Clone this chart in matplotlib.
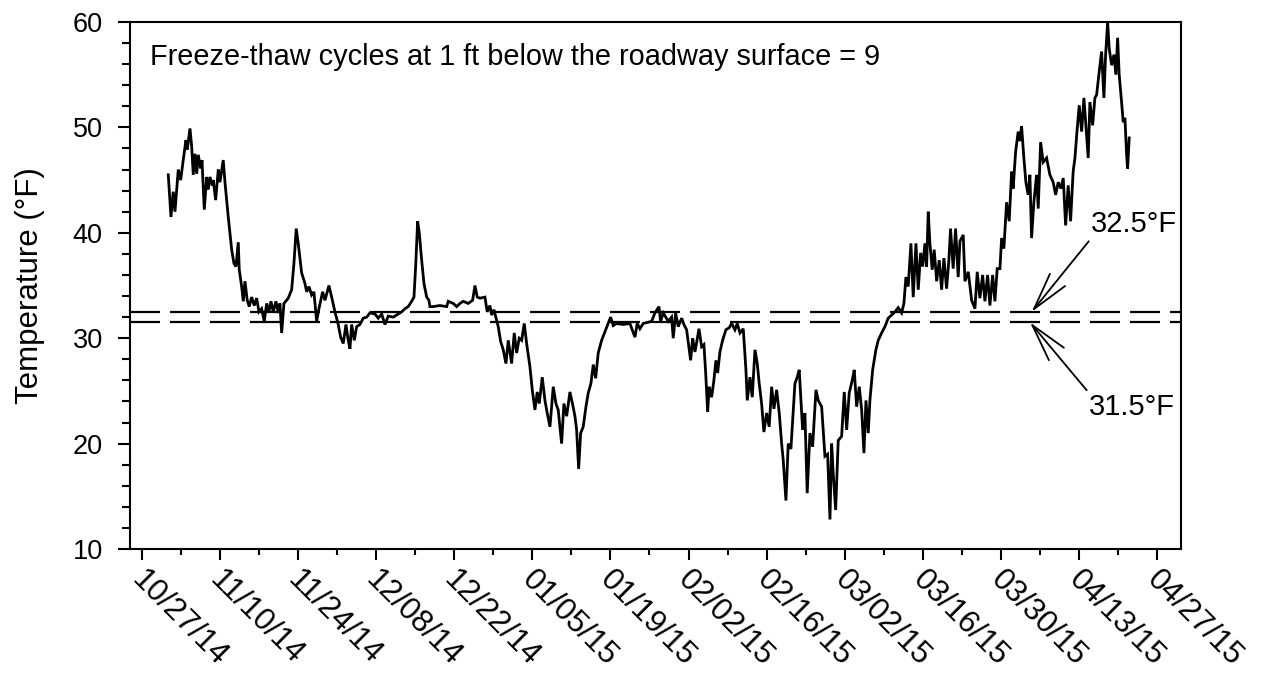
import matplotlib
matplotlib.use("Agg")
import matplotlib.pyplot as plt
import matplotlib.dates as mdates
from matplotlib.transforms import ScaledTranslation
import pandas as pd
import numpy as np

plt.rcParams['font.family'] = ['Liberation Sans', 'DejaVu Sans']
plt.rcParams['lines.scale_dashes'] = False

# days after 10/27/14 and temperature (deg F)
days = [4.77, 5.25, 5.66, 5.97, 6.56, 6.99, 7.45, 7.94, 8.17, 8.66, 8.96, 9.25, 9.55, 9.86,
        10.14, 10.57, 10.81, 11.22, 11.65, 11.93, 12.24, 12.65, 12.83, 13.26, 13.73, 14.03,
        14.62, 14.93, 15.52, 16.13, 16.54, 16.90, 17.31, 17.49, 17.92, 18.21, 18.51, 18.92,
        19.28, 19.71, 20.18, 20.61, 21.02, 21.50, 21.97, 22.40, 22.81, 23.17, 23.58, 24.07,
        24.48, 24.78, 25.09, 25.50, 26.27, 26.88, 27.29, 27.70, 28.06, 28.67, 29.26, 29.57,
        29.98, 30.46, 30.87, 31.36, 31.77,
        32.43, 32.85, 33.56, 34.05, 34.64, 35.23, 35.66, 36.13, 36.61, 37.02, 37.33, 37.63,
        38.10, 38.53, 39.12, 39.71, 40.32, 40.91, 41.81, 42.40, 43.01, 43.60, 44.19, 45.09,
        45.98, 46.59, 47.18, 47.77, 48.38, 48.80, 49.10, 49.46, 49.75, 50.18, 50.59, 51.08,
        51.48, 51.66, 52.25, 53.45, 54.66, 54.94, 55.84, 56.45, 57.04, 57.63, 58.53, 59.31,
        59.73, 60.14,
        60.62, 61.52, 61.93, 62.41, 62.72, 63.13, 63.62, 63.90, 64.33, 64.80, 65.28, 65.70,
        66.30, 66.77, 67.20, 67.66, 68.10, 68.56, 68.99, 69.58, 70.00, 70.48, 70.89, 71.25,
        71.79, 72.27, 72.68, 73.17, 73.76, 74.24, 74.65, 75.26, 75.67, 76.16, 76.75, 77.24,
        77.65, 77.95, 78.31, 78.67, 79.13, 79.62, 80.03, 80.51, 80.93, 81.36, 81.82, 82.43,
        83.02, 83.61, 84.04, 84.51, 85.12, 86.30, 87.50, 88.40, 88.81,
        89.29, 89.89, 91.39, 91.98, 92.70, 93.00, 93.47, 94.37, 94.97, 95.26, 95.69, 96.16,
        96.77, 97.18, 97.66, 98.38, 98.74, 99.15, 99.46, 99.87, 100.35, 100.76, 101.07,
        101.43, 101.71, 102.14, 102.55, 102.91, 103.22, 103.63, 104.11, 104.70, 105.30,
        105.73, 106.32, 106.73, 107.22, 107.81, 108.29, 108.53, 109.01, 109.42, 109.91,
        110.32, 110.67, 111.10, 111.51, 112.00, 112.46, 112.90, 113.31, 113.79, 114.26,
        114.69, 114.98, 115.46, 115.87, 116.35, 116.77, 117.07, 117.48, 117.84,
        118.45, 118.86, 119.27, 119.76, 120.24, 120.84, 121.25, 121.86, 122.45, 122.93,
        123.35, 123.65, 123.93, 124.37, 124.83, 125.44, 125.91, 126.34, 126.80, 127.34,
        127.70, 128.13, 128.60, 129.03, 129.44, 129.80, 130.21, 130.51, 131.00, 131.58,
        132.00, 132.61, 133.20, 133.79, 134.40, 134.99, 135.58, 136.19, 136.60, 136.96,
        137.37, 137.86, 138.27, 138.76, 139.17, 139.60, 139.96, 140.37, 140.67, 140.96,
        141.26, 141.67, 142.03, 142.47, 142.93, 143.36, 143.77, 144.25, 144.66, 144.96,
        145.43, 145.86, 146.33,
        146.64, 147.23, 147.54, 148.13, 148.74, 149.33, 149.74, 150.22, 150.71, 151.12,
        151.60, 152.01, 152.50, 152.91, 153.32, 153.81, 154.11, 154.52, 155.00, 155.47,
        155.90, 156.18, 156.62, 157.08, 157.39, 157.69, 158.10, 158.46, 158.87, 159.18,
        159.48, 159.89, 160.38, 160.67, 161.10, 161.56, 162.17, 162.76, 163.35, 163.79,
        164.25, 164.73, 165.15, 165.58, 166.04, 166.47, 166.93, 167.25, 167.66, 168.02,
        168.45, 168.86, 169.22, 169.63, 169.93, 170.42, 170.83, 171.14, 171.60, 172.03,
        172.44, 172.75, 173.11, 173.39, 173.83, 174.24, 174.59, 174.90, 175.18, 175.61,
        175.90, 176.21, 176.51, 176.69, 176.98]

temps = [45.5, 41.5, 43.9, 42.0, 46.0, 45.0, 46.9, 48.8, 47.9, 49.9, 48.2, 45.5, 47.5, 45.6,
         47.4, 46.1, 46.9, 42.2, 45.3, 44.1, 45.3, 44.5, 45.0, 43.1, 46.0, 44.8,
         46.9, 44.8, 41.5, 38.4, 37.1, 36.8, 39.1, 36.5, 34.9, 33.5, 35.4, 33.6,
         33.0, 33.9, 33.1, 33.8, 32.5, 32.8, 31.6, 33.3, 32.5, 33.5, 32.5, 33.5,
         32.4, 33.3, 30.5, 33.3, 33.8, 34.6, 37.1, 40.4, 39.0, 36.2, 35.2, 34.4,
         34.9, 34.1, 34.4, 31.6, 32.8,
         34.4, 33.6, 35.0, 33.9, 32.5, 31.3, 30.1, 29.5, 31.3, 29.8, 29.0, 31.3,
         29.8, 31.1, 31.3, 31.9, 32.0, 32.4, 32.3, 31.9, 32.3, 31.3, 32.1, 32.0,
         32.3, 32.5, 32.8, 33.0, 33.5, 33.9, 36.8, 41.1, 40.0, 37.4, 35.2, 33.9,
         33.6, 33.0, 33.0, 33.1, 33.0, 33.5, 33.3, 33.0, 33.3, 33.5, 33.3, 33.6,
         35.0, 33.9,
         33.8, 33.9, 32.5, 33.1, 32.2, 32.7, 31.7, 31.1, 29.7, 28.9, 27.6, 29.8,
         27.6, 30.5, 28.6, 30.0, 29.8, 31.4, 29.5, 27.3, 25.1, 23.2, 24.9, 23.8,
         26.3, 24.1, 22.9, 21.6, 25.4, 23.8, 23.2, 20.0, 23.8, 22.6, 24.9, 23.7,
         22.6, 21.3, 17.6, 21.0, 21.6, 23.5, 24.8, 25.7, 27.5, 26.2, 28.6, 29.8,
         30.6, 31.4, 32.0, 31.2, 31.4, 31.3, 31.4, 30.1, 31.4,
         30.9, 31.4, 31.6, 32.4, 33.0, 31.6, 32.4, 31.6, 32.0, 30.0, 32.4, 31.1,
         31.9, 31.3, 30.8, 27.9, 30.0, 28.7, 29.6, 30.9, 29.2, 29.4, 26.8,
         23.0, 25.4, 24.4, 26.0, 27.9, 26.7, 28.7, 29.8, 30.8, 31.0,
         31.4, 30.8, 31.4, 30.5, 30.9, 27.0, 24.1, 26.3, 24.4, 28.9,
         27.6, 25.7, 23.8, 21.1, 22.9, 21.6, 25.4, 23.3, 25.1, 22.9,
         20.0, 18.4, 14.6, 20.0, 19.5, 23.2, 25.7, 26.3, 27.0,
         21.3, 22.9, 15.3, 21.0, 19.7, 25.1, 24.1, 23.5, 18.8, 19.0,
         12.8, 20.0, 17.2, 13.7, 20.3, 20.7, 24.9, 21.3, 24.8, 26.0,
         27.0, 23.5, 25.4, 23.2, 19.1, 24.1, 21.0, 24.1, 27.0, 28.9,
         29.8, 30.5, 31.1, 31.9, 32.2, 32.5, 32.9, 32.4, 33.3, 35.8,
         34.9, 39.0, 33.9, 39.0, 34.6, 38.1, 36.8, 39.0, 36.8, 42.0,
         39.0, 36.5, 38.4, 35.4, 37.4, 34.6, 37.6, 34.7, 37.4, 40.4,
         36.6, 40.4, 35.8,
         39.2, 39.8, 35.4, 36.3, 33.6, 32.8, 36.3, 33.8, 36.0, 33.5,
         36.0, 33.1, 36.0, 33.5, 36.6, 36.6, 39.5, 38.5, 42.9, 41.1,
         45.8, 44.2, 47.7, 49.6, 48.7, 50.1, 47.1, 44.8, 43.6, 45.5,
         39.5, 42.9, 45.5, 42.3, 48.6, 46.7, 47.1, 45.5, 44.8, 43.6,
         44.8, 44.2, 45.2, 40.7, 44.5, 41.1, 45.8, 47.1, 49.9, 52.1,
         49.6, 52.8, 50.2, 47.1, 52.4, 50.2, 52.8, 53.1, 55.3, 57.2,
         52.8, 56.9, 60.0, 57.5, 55.9, 56.9, 55.0, 58.5, 55.0, 52.4,
         50.5, 50.9, 47.4, 46.1, 49.0]

start = pd.Timestamp('2014-10-27')
dates = start + pd.to_timedelta(days, unit='D')
limits = [32.5, 31.5]
limit_labels = ['32.5\u00b0F', '31.5\u00b0F']
title = 'Freeze-thaw cycles at 1 ft below the roadway surface = 9'

fig = plt.figure(figsize=(12.64, 6.81), dpi=100)
ax = fig.add_axes([0.1028, 0.1938, 0.8315, 0.7739])

ax.plot(dates, temps, color='black', lw=2.0, solid_joinstyle='miter')
for v in limits:
    ax.axhline(v, color='black', lw=1.6, dashes=(21.6, 7.2))

ax.set_xlim(start - pd.Timedelta(days=2.1), start + pd.Timedelta(days=186.25))
ax.set_ylim(10, 60)
ax.set_yticks(np.arange(10, 61, 10))
ax.set_yticks(np.arange(10, 61, 2), minor=True)
ax.set_xticks(pd.date_range('2014-10-27', '2015-04-27', freq='14D'))
ax.set_xticks(pd.date_range('2014-10-27', '2015-04-27', freq='7D'), minor=True)
ax.xaxis.set_major_formatter(mdates.DateFormatter('%m/%d/%y'))

ax.tick_params(which='both', direction='out', top=False, right=False, width=1.5)
ax.tick_params(axis='y', which='major', length=8.6, pad=11, labelsize=19.5)
ax.tick_params(axis='y', which='minor', length=5.5)
ax.tick_params(axis='x', which='major', length=8, pad=3.5, labelsize=22.5)
ax.tick_params(axis='x', which='minor', length=4)
for s in ax.spines.values():
    s.set_linewidth(1.5)
shift = ScaledTranslation(5 / 100, 0, fig.dpi_scale_trans)
for lab in ax.get_xticklabels():
    lab.set_rotation(-45)
    lab.set_ha('left')
    lab.set_va('top')
    lab.set_rotation_mode('anchor')
    lab.set_transform(lab.get_transform() + shift)

ax.set_ylabel('Temperature (\u00b0F)', fontsize=22.5)
ax.yaxis.set_label_coords(-0.081, 0.5)
ax.text(0.019, 0.918, title, transform=ax.transAxes, fontsize=20.8, va='baseline')

arrow = dict(arrowstyle='->,head_length=1.35,head_width=0.35', color='black', lw=1.3,
             shrinkA=0, shrinkB=0, mutation_scale=20)
ax.annotate(limit_labels[0], xy=(start + pd.Timedelta(days=159.5), limits[0]),
            xytext=(1091, 681 - 232.5), textcoords='figure pixels',
            fontsize=21, va='baseline', ha='left',
            arrowprops=dict(arrow, relpos=(0, 0)))
ax.annotate(limit_labels[1], xy=(start + pd.Timedelta(days=159.2), limits[1]),
            xytext=(1089, 681 - 415), textcoords='figure pixels',
            fontsize=21, va='baseline', ha='left',
            arrowprops=dict(arrow, relpos=(0, 1)))

fig.savefig('out.png', dpi=100)
